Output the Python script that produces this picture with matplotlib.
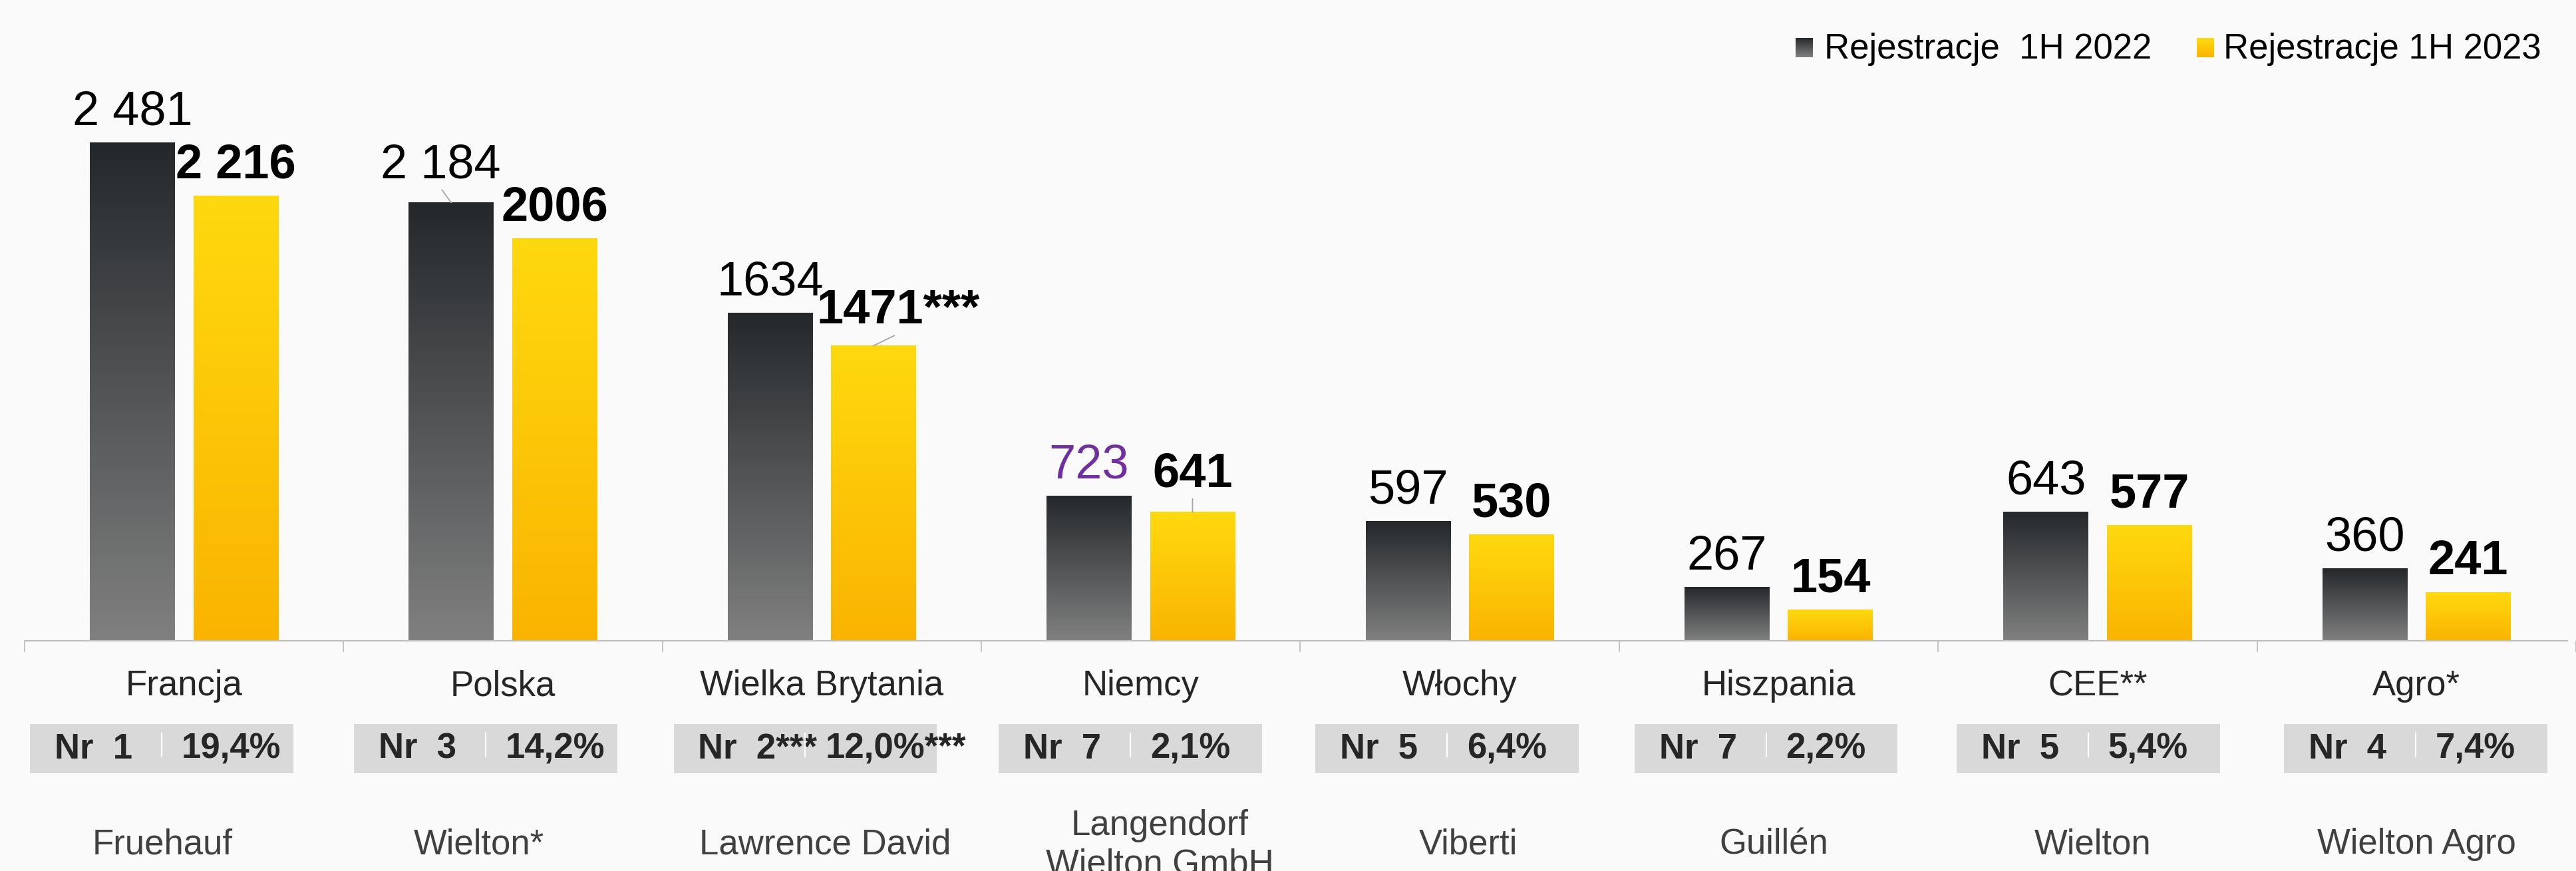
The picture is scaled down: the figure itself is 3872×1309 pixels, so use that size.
import numpy as np
import matplotlib
matplotlib.use("Agg")
import matplotlib.pyplot as plt
import matplotlib.transforms as mtransforms
from matplotlib.patches import Rectangle
from matplotlib.colors import to_rgb

plt.rcParams['font.family'] = ['Liberation Sans', 'DejaVu Sans']

# chart data
countries = ["Francja", "Polska", "Wielka Brytania", "Niemcy", "Włochy",
             "Hiszpania", "CEE**", "Agro*"]
reg_2022 = [2481, 2184, 1634, 723, 597, 267, 643, 360]
reg_2023 = [2216, 2006, 1471, 641, 530, 154, 577, 241]
labels_2022 = ["2 481", "2 184", "1634", "723", "597", "267", "643", "360"]
labels_2023 = ["2 216", "2006", "1471***", "641", "530", "154", "577", "241"]
ranks = ["Nr  1", "Nr  3", "Nr  2***", "Nr  7", "Nr  5", "Nr  7", "Nr  5", "Nr  4"]
shares = ["19,4%", "14,2%", "12,0%***", "2,1%", "6,4%", "2,2%", "5,4%", "7,4%"]
leaders = ["Fruehauf", "Wielton*", "Lawrence David", "Langendorf\nWielton GmbH",
           "Viberti", "Guillén", "Wielton", "Wielton Agro"]
legend_labels = ["Rejestracje  1H 2022", "Rejestracje 1H 2023"]

# layout (pixels of the 3872x1309 picture)
W, H = 3872, 1309
DPI = 100
CAT_PX = 481.0            # width of one category
BASE_PX = 963             # y of the axis line
PX_PER_UNIT = 0.3015      # bar pixels per registration
box_shift = [-34, -26, -25, -16, -19, -19, -14, -1]
name_shift = [-32, -36, 5, 29, 13, -7, -7, 0]
label_tweak_2022 = {1: (-16, 37)}
label_tweak_2023 = {2: (37, 33), 3: (0, 38)}
leader_2022 = {1}
leader_2023 = {2, 3}

DARK_TOP, DARK_BOT = "#25282b", "#808080"
GOLD_TOP, GOLD_BOT = "#ffd90f", "#fab400"
BG = "#fafafa"


def gradient(top, bottom, n=256):
    t = np.linspace(0, 1, n)[:, None, None]
    return (1 - t) * np.array(to_rgb(top)) + t * np.array(to_rgb(bottom))


def fy(px):
    return 1 - px / H


fig = plt.figure(figsize=(W / DPI, H / DPI), dpi=DPI, facecolor=BG)
ax = fig.add_axes([0, fy(BASE_PX), 1, BASE_PX / H])
ax.set_facecolor(BG)

x = np.arange(len(countries))
bw = 128 / CAT_PX
off = 78 / CAT_PX

bars_a = ax.bar(x - off, reg_2022, bw, color="none", zorder=2)
bars_b = ax.bar(x + off, reg_2023, bw, color="none", zorder=2)

for bars, top, bot in [(bars_a, DARK_TOP, DARK_BOT), (bars_b, GOLD_TOP, GOLD_BOT)]:
    for b in bars:
        x0 = b.get_x()
        ax.imshow(gradient(top, bot), extent=(x0, x0 + b.get_width(), 0, b.get_height()),
                  aspect="auto", zorder=2, interpolation="bilinear")

# value labels
for bars, labels, tweak, lead, weight in [
        (bars_a, labels_2022, label_tweak_2022, leader_2022, "normal"),
        (bars_b, labels_2023, label_tweak_2023, leader_2023, "bold")]:
    for i, b in enumerate(bars):
        dx, dy = tweak.get(i, (0, 27))
        color = "#7030a0" if (bars is bars_a and i == 3) else "black"
        kw = {}
        if i in lead:
            kw["arrowprops"] = dict(arrowstyle="-", color="#a6a6a6", lw=1.3,
                                    relpos=(0.5, 0), shrinkA=0, shrinkB=0)
        ax.annotate(labels[i], xy=(b.get_x() + b.get_width() / 2, b.get_height()),
                    xytext=(dx, dy), textcoords="offset pixels", ha="center",
                    va="baseline", fontsize=52, fontweight=weight, color=color,
                    annotation_clip=False, **kw)

ax.set_xlim(-37 / CAT_PX - 0.5, (W - 37) / CAT_PX - 0.5)
ax.set_ylim(0, BASE_PX / PX_PER_UNIT)
ax.set_yticks([])
for s in ["left", "right", "top"]:
    ax.spines[s].set_visible(False)
ax.spines["bottom"].set_color("#bfbfbf")
ax.spines["bottom"].set_linewidth(1.6)
ax.spines["bottom"].set_bounds(-0.5, ax.get_xlim()[1])
ax.set_xticks(np.arange(len(countries) + 1) - 0.5)
ax.set_xticklabels([])
ax.tick_params(axis="x", length=12.5, width=1.3, color="#bfbfbf", direction="out")

trans = mtransforms.blended_transform_factory(ax.transData, fig.transFigure)

for i, name in enumerate(countries):
    fig.text(i, fy(1045), name, transform=trans, ha="center", va="baseline",
             fontsize=38, color="#262626")

    # rank / share box
    cx = i + box_shift[i] / CAT_PX
    bwid = 397 / CAT_PX
    fig.add_artist(Rectangle((cx - bwid / 2, fy(1162)), bwid, 74 / H,
                             transform=trans, facecolor="#d9d9d9",
                             edgecolor="none", zorder=1))
    fig.text(cx - bwid / 2 + 37 / CAT_PX, fy(1140), ranks[i], transform=trans,
             ha="left", va="baseline", fontsize=38, fontweight="bold",
             color="#262626", zorder=2)
    fig.text(cx + 30 / CAT_PX, fy(1140), shares[i], transform=trans,
             ha="left", va="baseline", fontsize=38, fontweight="bold",
             color="#262626", zorder=2)
    fig.add_artist(plt.Line2D([cx, cx], [fy(1137), fy(1102)], transform=trans,
                              color="white", lw=1.5, zorder=3))

    # baseline of the last line of the company name
    base = 1313 if "\n" in leaders[i] else 1283
    fig.text(i + name_shift[i] / CAT_PX, fy(base), leaders[i], transform=trans,
             ha="center", va="baseline", fontsize=38, color="#404040",
             linespacing=1.2)

# legend
for (sx, tx), label, (top, bot) in zip([(2699, 2742), (3302, 3342)], legend_labels,
                                       [(DARK_TOP, DARK_BOT), (GOLD_TOP, GOLD_BOT)]):
    sw = fig.add_axes([sx / W, fy(86), 26 / W, 29 / H])
    sw.imshow(gradient(top, bot), aspect="auto")
    sw.axis("off")
    fig.text(tx / W, fy(88), label, ha="left", va="baseline", fontsize=38,
             color="black")

fig.savefig("out.png", dpi=DPI, facecolor=BG)
